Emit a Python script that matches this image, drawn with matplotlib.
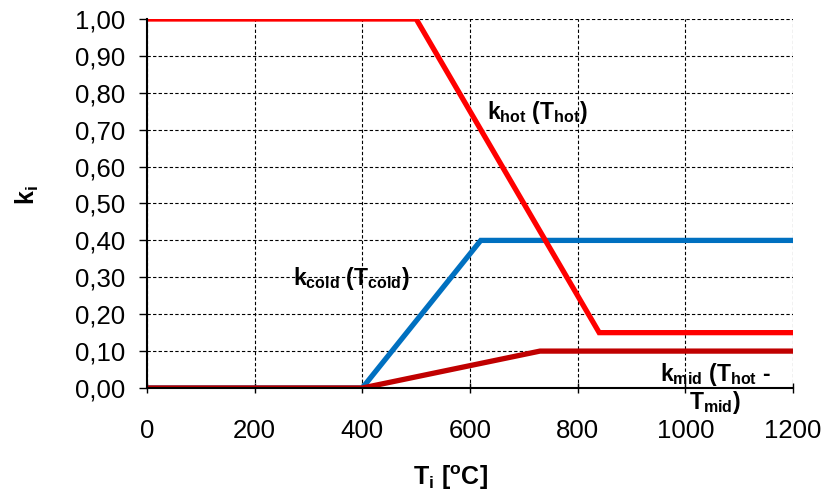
import matplotlib
matplotlib.use("Agg")
import matplotlib.pyplot as plt
from matplotlib.ticker import FuncFormatter, MultipleLocator

plt.rcParams['font.family'] = ['Liberation Sans', 'DejaVu Sans']
plt.rcParams['mathtext.fontset'] = 'custom'
plt.rcParams['mathtext.rm'] = 'Liberation Sans:bold'
plt.rcParams['mathtext.it'] = 'Liberation Sans:bold'
plt.rcParams['mathtext.bf'] = 'Liberation Sans:bold'

# Data
hot_T = [0, 500, 840, 1200]
hot_k = [1.0, 1.0, 0.15, 0.15]
cold_T = [0, 400, 620, 1200]
cold_k = [0.0, 0.0, 0.40, 0.40]
mid_T = [0, 400, 730, 1200]
mid_k = [0.0, 0.0, 0.10, 0.10]

fig = plt.figure(figsize=(8.27, 4.95), dpi=100)
ax = fig.add_axes([147/827, 1-388/495, (793-147)/827, (388-19)/495])

ax.plot(cold_T, cold_k, color='#0070C0', lw=3.8, solid_joinstyle='miter', zorder=3)
ax.plot(hot_T, hot_k, color='#FF0000', lw=3.8, solid_joinstyle='miter', zorder=4)
ax.plot(mid_T, mid_k, color='#C00000', lw=3.8, solid_joinstyle='miter', zorder=5)

ax.set_xlim(0, 1200)
ax.set_ylim(0, 1.0)
ax.xaxis.set_major_locator(MultipleLocator(200))
ax.yaxis.set_major_locator(MultipleLocator(0.1))
ax.yaxis.set_major_formatter(FuncFormatter(lambda v, p: f"{v:.2f}".replace('.', ',')))

ax.grid(True, color='black', linestyle=(0, (3, 2)), linewidth=0.8)
ax.set_axisbelow(True)
for s in ['top', 'right']:
    ax.spines[s].set_visible(False)
for s in ['left', 'bottom']:
    ax.spines[s].set_linewidth(1.5)
    ax.spines[s].set_zorder(6)

ax.tick_params(axis='y', direction='out', length=6, width=1, pad=10, labelsize=18.5)
ax.tick_params(axis='x', direction='inout', length=7, width=1, pad=19, labelsize=18.5)

fig.text(450/827, 1-478/495, 'T$_{i}$ [$^{o}$C]', ha='center', va='center',
         fontsize=18, fontweight='bold')
fig.text(27/827, 1-195/495, 'k$_{i}$', ha='center', va='center', rotation=90,
         fontsize=18, fontweight='bold')

def dtext(xp, yp, s, **kw):
    fig.text(xp/827, 1-yp/495, s, fontsize=16.5, fontweight='bold', **kw)

dtext(487, 113, 'k$_{hot}$ (T$_{hot}$)', ha='left', va='center')
dtext(293, 278, 'k$_{cold}$ (T$_{cold}$)', ha='left', va='center')
dtext(660, 374, 'k$_{mid}$ (T$_{hot}$ -', ha='left', va='center')
dtext(689, 403, 'T$_{mid}$)', ha='left', va='center')

fig.savefig('out.png', dpi=100)
